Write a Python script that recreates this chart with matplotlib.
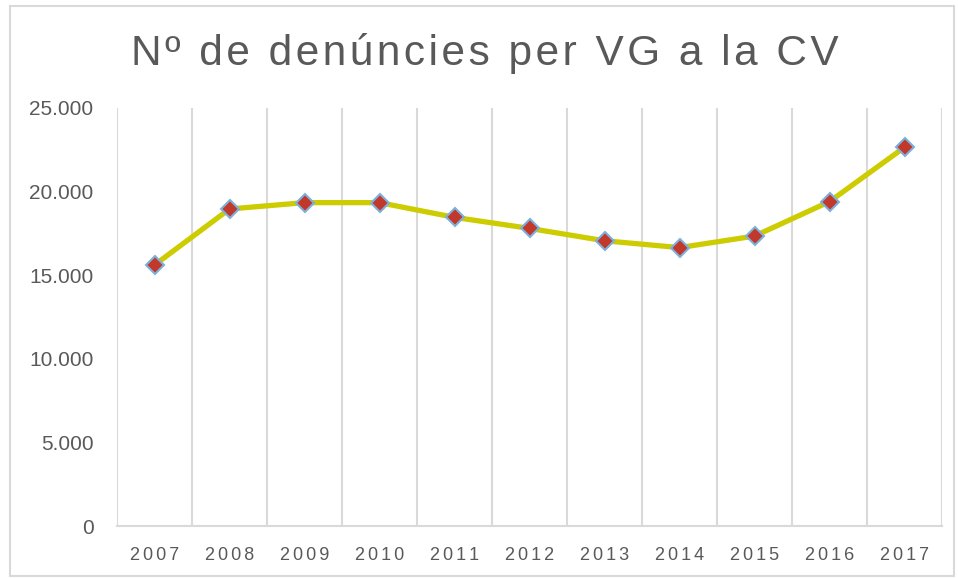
import matplotlib
matplotlib.use("Agg")
import matplotlib.pyplot as plt
from matplotlib.patches import Rectangle

years = ["2007", "2008", "2009", "2010", "2011", "2012", "2013", "2014", "2015", "2016", "2017"]
denuncies = [15610, 18960, 19340, 19340, 18460, 17800, 17060, 16650, 17340, 19400, 22650]
y_ticks = [0, 5000, 10000, 15000, 20000, 25000]
y_labels = ["0", "5.000", "10.000", "15.000", "20.000", "25.000"]

HS = "\u200a"  # hair space, to imitate the letter spacing


def spaced(s, sep):
    return sep.join(s)


fig = plt.figure(figsize=(9.58, 5.78), dpi=100)
ax = fig.add_axes([117 / 958, 1 - 526 / 578, 825 / 958, 418 / 578])

x = list(range(len(years)))
ax.plot(x, denuncies, color="#cccc00", lw=3.8, solid_capstyle="round", zorder=3)
ax.plot(x, denuncies, ls="none", marker="D", ms=9.5, mfc="#c0392b",
        mec="#7eb0dc", mew=1.5, zorder=4)

ax.set_xlim(-0.5, len(years) - 0.5)
ax.set_ylim(0, 25000)

# vertical gridlines at category boundaries
for b in [i - 0.5 for i in range(len(years) + 1)]:
    ax.axvline(b, color="#d9d9d9", lw=1.5, zorder=1)

ax.set_xticks(x)
ax.set_xticklabels([spaced(y, HS + HS) for y in years], family=["Liberation Sans", "DejaVu Sans"],
                   fontsize=13, color="#595959")
ax.set_yticks(y_ticks)
ax.set_yticklabels(y_labels, family="Liberation Sans", fontsize=15, color="#595959")
ax.tick_params(axis="both", length=0)
ax.tick_params(axis="x", pad=15)
ax.tick_params(axis="y", pad=17)

for s in ["top", "right", "left"]:
    ax.spines[s].set_visible(False)
ax.spines["bottom"].set_color("#d9d9d9")
ax.spines["bottom"].set_linewidth(1.5)

title = "Nº de denúncies per VG a la CV"
fig.text(485 / 958, 1 - 53 / 578, spaced(title, HS), ha="center", va="center",
         family=["Liberation Sans Narrow", "Liberation Sans", "DejaVu Sans"],
         fontsize=30.5, color="#595959")

fig.patches.append(Rectangle((10 / 958, 2 / 578), 944 / 958, 570 / 578,
                             transform=fig.transFigure, fill=False,
                             edgecolor="#d9d9d9", lw=1.5))

fig.savefig("out.png", dpi=100)
